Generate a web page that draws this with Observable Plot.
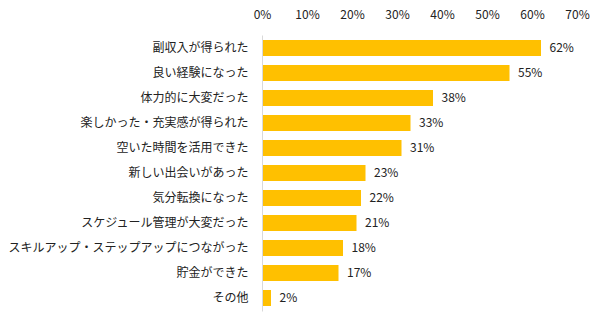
<!DOCTYPE html>
<html><head><meta charset="utf-8">
<script src="https://cdn.jsdelivr.net/npm/d3@7"></script>
<script src="https://cdn.jsdelivr.net/npm/@observablehq/plot@0.6"></script>
<style>
body{margin:0;background:#fff;}
#chart svg{font-family:"Noto Sans CJK JP","Noto Sans",sans-serif;}
</style>
</head><body><div id="chart"></div>
<script>
const categories = ["副収入が得られた","良い経験になった","体力的に大変だった","楽しかった・充実感が得られた","空いた時間を活用できた","新しい出会いがあった","気分転換になった","スケジュール管理が大変だった","スキルアップ・ステップアップにつながった","貯金ができた","その他"];
const values = [62,55,38,33,31,23,22,21,18,17,2];
const xTicks = [0,10,20,30,40,50,60,70];
const data = categories.map((c,i)=>({category:c, value:values[i]}));

const chart = Plot.plot({
  width:605, height:326,
  marginLeft:262, marginRight:28, marginTop:35.5, marginBottom:14.5,
  style:{fontSize:"12px", color:"#222", background:"#fff"},
  x:{domain:[0,70], ticks:xTicks, tickFormat:d=>d+"%", axis:"top", label:null, tickSize:0, tickPadding:17},
  y:{domain:categories, label:null, tickSize:0, tickPadding:14, paddingInner:0.34, paddingOuter:0.17},
  marks:[
    Plot.barX(data,{x:"value", y:"category", fill:"#FFC000"}),
    Plot.ruleX([0],{stroke:"#d9d9d9"}),
    Plot.text(data,{x:"value", y:"category", text:d=>d.value+"%", textAnchor:"start", dx:8, fill:"#222", fontSize:12})
  ]
});
document.getElementById("chart").appendChild(chart);
</script></body></html>
